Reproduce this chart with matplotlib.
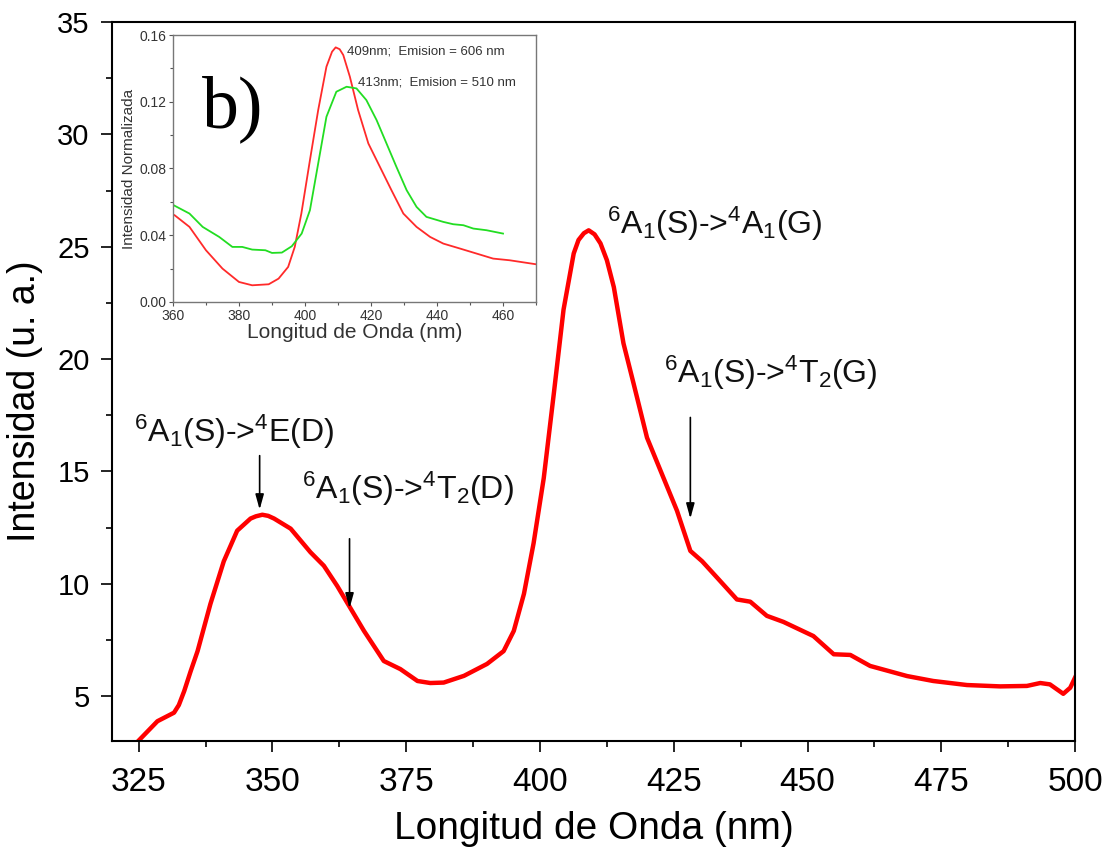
import matplotlib
matplotlib.use("Agg")
import matplotlib.pyplot as plt
from matplotlib.ticker import MultipleLocator

plt.rcParams['font.family'] = ['Liberation Sans', 'DejaVu Sans']
plt.rcParams['mathtext.default'] = 'regular'

# excitation spectrum (main panel)
wl = [325.0, 328.5, 331.6, 332.5, 333.5, 334.7, 336.0, 338.4, 340.9, 343.4,
      345.9, 346.9, 348.1, 349.2, 350.3, 353.4, 357.1, 359.6, 362.1, 364.6,
      367.1, 370.8, 373.9, 377.1, 379.5, 382.0, 385.8, 390.1, 393.2, 395.1,
      397.0, 398.8, 400.7, 402.6, 404.4, 406.3, 407.2, 408.2, 409.1, 410.2,
      411.3, 412.5, 413.8, 415.6, 417.5, 420.0, 423.1, 425.6, 428.1, 430.3,
      433.1, 436.8, 439.3, 442.4, 445.5, 451.1, 454.9, 458.0, 461.7, 468.6,
      473.5, 479.8, 486.0, 491.0, 493.5, 495.3, 497.8, 499.1, 500.0]
intens = [3.02, 3.88, 4.26, 4.6, 5.22, 6.1, 7.0, 9.1, 11.0, 12.36,
          12.9, 13.0, 13.07, 13.02, 12.9, 12.45, 11.4, 10.8, 9.9, 8.9,
          7.9, 6.56, 6.2, 5.67, 5.58, 5.6, 5.9, 6.43, 7.0, 7.9,
          9.55, 11.8, 14.7, 18.5, 22.2, 24.7, 25.3, 25.6, 25.73, 25.55,
          25.15, 24.4, 23.2, 20.7, 18.9, 16.5, 14.7, 13.25, 11.46, 11.0,
          10.27, 9.3, 9.2, 8.57, 8.3, 7.67, 6.86, 6.83, 6.34, 5.89,
          5.67, 5.49, 5.43, 5.45, 5.58, 5.52, 5.1, 5.37, 5.82]

# normalized spectra (inset)
wl_606 = [360.5, 365, 370, 375, 380, 384, 389, 392, 394.9, 396.9, 398.9,
          401.5, 404, 406.5, 408.2, 409.3, 410.5, 411.6, 413.6, 416.1, 419.2,
          422.7, 426.2, 429.8, 433.8, 437.9, 441.9, 447, 452, 457, 462, 470]
norm_606 = [0.052, 0.045, 0.031, 0.020, 0.012, 0.010, 0.0106, 0.014, 0.021,
            0.033, 0.053, 0.085, 0.115, 0.141, 0.150, 0.1526, 0.1515, 0.148,
            0.135, 0.115, 0.095, 0.081, 0.067, 0.053, 0.045, 0.039, 0.035,
            0.032, 0.029, 0.026, 0.025, 0.0226]
wl_510 = [360.2, 365, 369, 374, 378, 381, 384, 388, 390, 393, 396, 399,
          401.5, 404, 406.5, 409.5, 412.6, 415.6, 418.6, 421.7, 424.7, 427.7,
          430.8, 433.8, 436.8, 441.9, 444.9, 448, 451, 455, 460]
norm_510 = [0.058, 0.053, 0.045, 0.039, 0.033, 0.033, 0.0314, 0.031, 0.0294,
            0.0296, 0.0334, 0.041, 0.055, 0.083, 0.111, 0.126, 0.129, 0.128,
            0.121, 0.109, 0.095, 0.081, 0.067, 0.057, 0.051, 0.048, 0.0466,
            0.046, 0.044, 0.043, 0.041]

# transition labels: text, text position, arrow x, arrow start/end y
labels = [r'$^6$A$_1$(S)->$^4$E(D)', r'$^6$A$_1$(S)->$^4$T$_2$(D)',
          r'$^6$A$_1$(S)->$^4$A$_1$(G)', r'$^6$A$_1$(S)->$^4$T$_2$(G)']
label_x = [324.1, 355.6, 412.6, 423.1]
label_y = [16.3, 13.75, 25.55, 18.95]
arrow_x = [347.6, 364.4, 428.1]
arrow_y0 = [15.7, 12.0, 17.4]
arrow_y1 = [13.3, 8.9, 12.9]

fig = plt.figure(figsize=(11.13, 8.48), dpi=100)
ax = fig.add_axes([0.1006, 0.1262, 0.8653, 0.8478])
ax.plot(wl, intens, color='#ff0000', lw=3.2, solid_joinstyle='round')
ax.set_xlim(320, 500)
ax.set_ylim(3, 35)
ax.xaxis.set_major_locator(MultipleLocator(25))
ax.xaxis.set_minor_locator(MultipleLocator(12.5))
ax.yaxis.set_major_locator(MultipleLocator(5))
ax.yaxis.set_minor_locator(MultipleLocator(2.5))
ax.set_xticks([325, 350, 375, 400, 425, 450, 475, 500])
ax.set_yticks([5, 10, 15, 20, 25, 30, 35])
ax.tick_params(which='major', direction='out', length=8, width=1.2,
               labelsize=24, pad=11)
ax.tick_params(axis='y', which='major', labelsize=21, pad=8)
ax.tick_params(which='minor', direction='out', length=4, width=1.2)
for s in ax.spines.values():
    s.set_linewidth(1.5)
ax.set_xlabel('Longitud de Onda (nm)', fontsize=28, labelpad=9)
ax.set_ylabel('Intensidad (u. a.)', fontsize=27)
ax.yaxis.set_label_coords(-0.072, 0.473)

for t, x, y in zip(labels, label_x, label_y):
    ax.text(x, y, t, fontsize=23, ha='left', va='baseline', color='#111111')
for x, y0, y1 in zip(arrow_x, arrow_y0, arrow_y1):
    ax.annotate('', xy=(x, y1), xytext=(x, y0),
                arrowprops=dict(arrowstyle='-|>,head_length=0.9,head_width=0.25',
                                color='black', lw=1.2, shrinkA=0, shrinkB=0))

# inset with normalized spectra
ins = fig.add_axes([0.1554, 0.6439, 0.3262, 0.3148])
ins.plot(wl_606, norm_606, color='#ff2a2a', lw=1.3)
ins.plot(wl_510, norm_510, color='#22dd22', lw=1.3)
ins.set_xlim(360, 470)
ins.set_ylim(0, 0.16)
ins.xaxis.set_major_locator(MultipleLocator(20))
ins.xaxis.set_minor_locator(MultipleLocator(10))
ins.yaxis.set_major_locator(MultipleLocator(0.04))
ins.yaxis.set_minor_locator(MultipleLocator(0.02))
ins.yaxis.set_major_formatter(plt.FormatStrFormatter('%.2f'))
ins.tick_params(which='major', direction='out', length=3, width=0.8,
                labelsize=10, colors='#555555', labelcolor='#333333', pad=2)
ins.tick_params(which='minor', direction='out', length=2, width=0.8,
                colors='#555555')
for s in ins.spines.values():
    s.set_color('#777777')
    s.set_linewidth(1.0)
ins.set_xlabel('Longitud de Onda (nm)', fontsize=15, color='#333333', labelpad=0)
ins.set_ylabel('Intensidad Normalizada', fontsize=11, color='#333333', labelpad=2)
ins.text(412.7, 0.1504, '409nm;  Emision = 606 nm', fontsize=9.5,
         color='#333333', ha='left', va='center')
ins.text(416.1, 0.1318, '413nm;  Emision = 510 nm', fontsize=9.5,
         color='#333333', ha='left', va='center')
ins.text(368.8, 0.105, 'b)', fontsize=53, family=['Liberation Serif', 'DejaVu Serif'],
         ha='left', va='baseline', color='black')

fig.savefig('out.png', dpi=100)
